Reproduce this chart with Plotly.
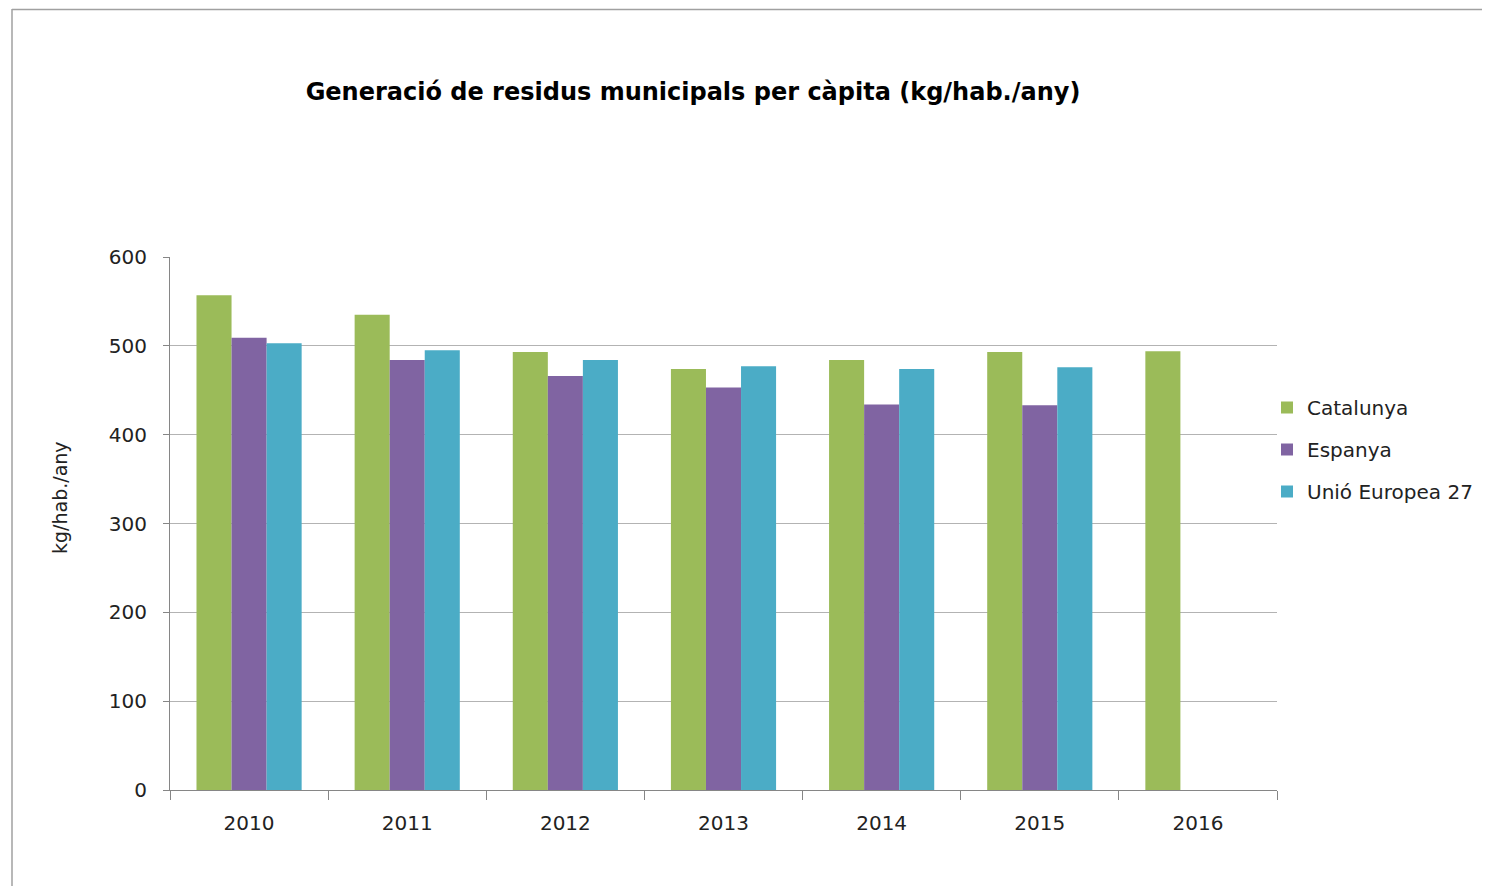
import plotly.graph_objects as go

years = ["2010", "2011", "2012", "2013", "2014", "2015", "2016"]
catalunya = [557, 535, 493, 474, 484, 493, 494]
espanya = [509, 484, 466, 453, 434, 433, None]
ue27 = [503, 495, 484, 477, 474, 476, None]

series_names = ["Catalunya", "Espanya", "Unió Europea 27"]
colors = ["#9BBB59", "#8064A2", "#4BACC6"]

FONT = "DejaVu Sans"
OFF = 8  # page body margin
W, H = 1490 - OFF, 886 - OFF
# plot area in page pixels
PX0, PX1, PY0, PY1 = 170, 1277, 257, 790
L, T = PX0 - OFF, PY0 - OFF
R, B = W - (PX1 - OFF), H - (PY1 - OFF)
pw, ph = PX1 - PX0, PY1 - PY0

fig = go.Figure()
for name, vals, col in zip(series_names, [catalunya, espanya, ue27], colors):
    fig.add_trace(go.Bar(x=years, y=vals, name=name, marker=dict(color=col, line=dict(width=0)),
                         legendgroup=name))

def px_x(p):
    return (p - PX0) / pw

def px_y(p):
    return (PY1 - p) / ph

fig.update_layout(
    width=W, height=H,
    margin=dict(l=L, r=R, t=T, b=B),
    paper_bgcolor="white", plot_bgcolor="white",
    barmode="group", bargap=0.335, bargroupgap=0,
    title=dict(text="<b>Generació de residus municipals per càpita (kg/hab./any)</b>",
               x=(693 - OFF) / W, xanchor="center", y=1 - (92 - OFF) / H, yanchor="middle",
               font=dict(family=FONT, size=24, color="#000000")),
    font=dict(family=FONT, size=20, color="#222222"),
    legend=dict(x=px_x(1267), xanchor="left", y=px_y(388), yanchor="top",
                font=dict(family=FONT, size=20, color="#222222"),
                tracegroupgap=13, bgcolor="rgba(0,0,0,0)"),
    xaxis=dict(type="category", showline=True, linecolor="#868686", linewidth=1,
               ticks="outside", tickson="boundaries", ticklen=9, tickcolor="#868686",
               ticklabelstandoff=15,
               showgrid=False, tickfont=dict(family=FONT, size=20, color="#222222")),
    yaxis=dict(range=[0, 600], dtick=100, showline=True, linecolor="#868686", linewidth=1,
               ticks="outside", ticklen=6, tickcolor="#868686", ticklabelstandoff=12,
               showgrid=True, gridcolor="#b3b3b3", gridwidth=1, zeroline=False,
               tickfont=dict(family=FONT, size=20, color="#222222")),
    annotations=[dict(text="kg/hab./any", textangle=-90, xref="paper", yref="paper",
                      x=px_x(60), y=px_y(498), xanchor="center", yanchor="middle",
                      showarrow=False, font=dict(family=FONT, size=19, color="#222222"))],
    shapes=[
        dict(type="line", xref="paper", yref="paper", x0=px_x(12), x1=px_x(12),
             y0=px_y(9), y1=px_y(900), line=dict(color="#a0a0a0", width=1.5)),
        dict(type="line", xref="paper", yref="paper", x0=px_x(12), x1=px_x(1500),
             y0=px_y(9.5), y1=px_y(9.5), line=dict(color="#a0a0a0", width=1.5)),
    ],
)

fig.write_html("out.html")
